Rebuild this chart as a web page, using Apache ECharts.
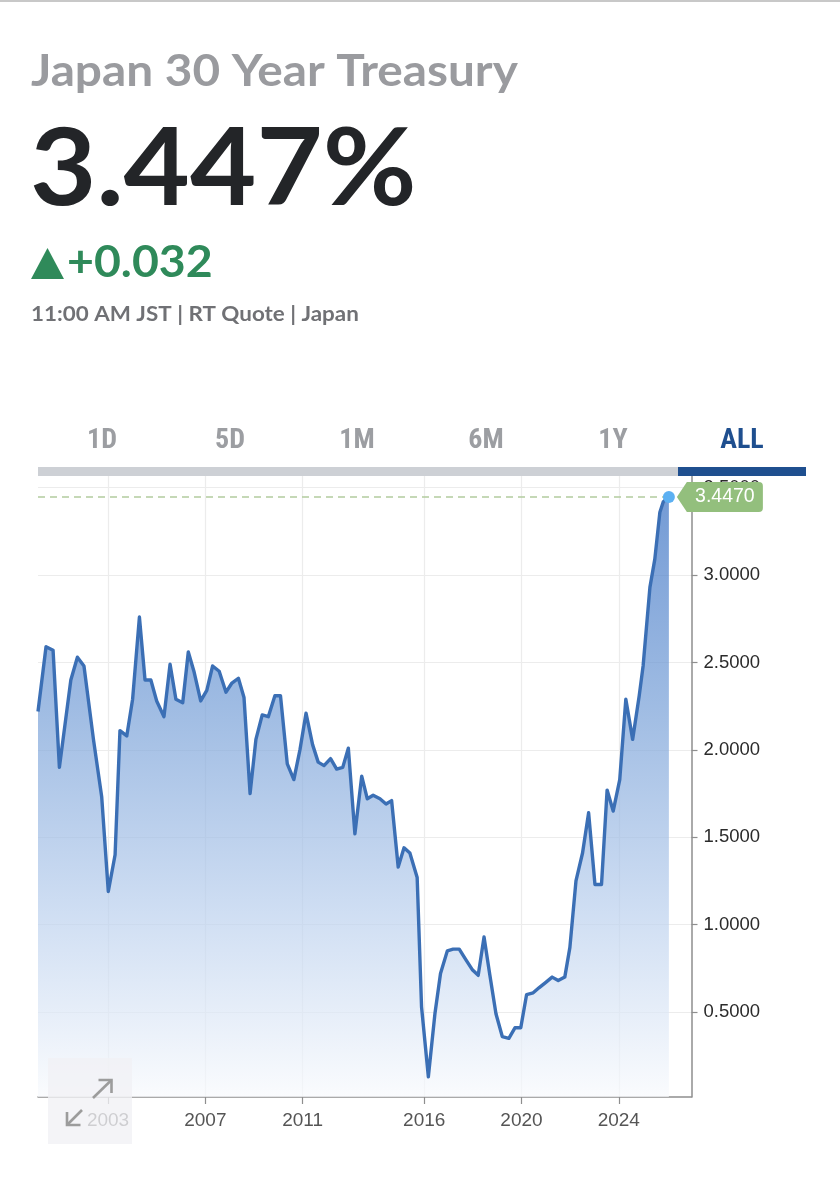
<!DOCTYPE html>
<html>
<head>
<meta charset="utf-8">
<script src="https://cdn.jsdelivr.net/npm/echarts@6/dist/echarts.min.js"></script>
<style>
  html, body { margin: 0; padding: 0; background: #fff; }
  #chart { width: 840px; height: 1200px; }
</style>
</head>
<body>
<div id="chart"></div>
<script>
// ---- data ----
const years = [2000.12, 2000.45, 2000.74, 2001.00, 2001.47, 2001.74, 2002.01, 2002.40, 2002.74, 2003.01,
  2003.29, 2003.49, 2003.77, 2004.01, 2004.29, 2004.52, 2004.76, 2005.00, 2005.30, 2005.55,
  2005.79, 2006.07, 2006.30, 2006.53, 2006.81, 2007.06, 2007.30, 2007.57, 2007.85, 2008.08,
  2008.36, 2008.59, 2008.84, 2009.08, 2009.34, 2009.59, 2009.86, 2010.09, 2010.37, 2010.64,
  2010.89, 2011.14, 2011.41, 2011.64, 2011.88, 2012.15, 2012.40, 2012.65, 2012.88, 2013.15,
  2013.43, 2013.66, 2013.90, 2014.18, 2014.43, 2014.66, 2014.93, 2015.17, 2015.41, 2015.71,
  2015.89, 2016.17, 2016.44, 2016.67, 2016.95, 2017.19, 2017.44, 2017.71, 2017.99, 2018.22,
  2018.46, 2018.70, 2018.95, 2019.21, 2019.48, 2019.73, 2019.97, 2020.21, 2020.48, 2020.73,
  2021.00, 2021.26, 2021.51, 2021.78, 2021.99, 2022.24, 2022.51, 2022.76, 2023.02, 2023.29,
  2023.52, 2023.77, 2024.04, 2024.29, 2024.57, 2024.84, 2025.00, 2025.28, 2025.48, 2025.69,
  2025.83, 2026.06];
const yields = [2.22, 2.59, 2.57, 1.90, 2.40, 2.53, 2.48, 2.06, 1.73, 1.19,
  1.40, 2.11, 2.08, 2.29, 2.76, 2.40, 2.40, 2.28, 2.19, 2.49,
  2.29, 2.27, 2.56, 2.45, 2.28, 2.34, 2.48, 2.45, 2.33, 2.38,
  2.41, 2.30, 1.75, 2.06, 2.20, 2.19, 2.31, 2.31, 1.92, 1.83,
  2.00, 2.21, 2.03, 1.93, 1.91, 1.95, 1.89, 1.90, 2.01, 1.52,
  1.85, 1.72, 1.74, 1.72, 1.69, 1.71, 1.33, 1.44, 1.41, 1.27,
  0.53, 0.13, 0.49, 0.72, 0.85, 0.86, 0.86, 0.80, 0.74, 0.71,
  0.93, 0.71, 0.49, 0.36, 0.35, 0.41, 0.41, 0.60, 0.61, 0.64,
  0.67, 0.70, 0.68, 0.70, 0.87, 1.25, 1.41, 1.64, 1.23, 1.23,
  1.77, 1.65, 1.83, 2.29, 2.06, 2.31, 2.48, 2.93, 3.09, 3.36,
  3.42, 3.447];
const xTickYears = [2003, 2007, 2011, 2016, 2020, 2024];
const yTickValues = [0.5, 1.0, 1.5, 2.0, 2.5, 3.0, 3.5];
const tabs = ['1D', '5D', '1M', '6M', '1Y', 'ALL'];
const titleText = 'Japan 30 Year Treasury';
const priceText = '3.447%';
const changeText = '+0.032';
const metaText = '11:00 AM JST | RT Quote | Japan';

const lastX = years[years.length - 1];
const lastY = yields[yields.length - 1];
const seriesData = years.map((x, i) => [x, yields[i]]);

const tabCenters = [102, 230, 357, 486, 613, 742];
const tabGraphics = tabs.map((t, i) => ({
  type: 'text', x: tabCenters[i], y: 441, z: 10,
  style: {
    text: t, align: 'center', verticalAlign: 'middle',
    font: '700 28px "Liberation Sans Narrow", "Roboto Condensed", "Liberation Sans", Arial, sans-serif',
    fill: t === 'ALL' ? '#1f4f8f' : '#9c9ea2'
  }
}));

const chart = echarts.init(document.getElementById('chart'), null, { renderer: 'canvas' });
chart.setOption({
  animation: false,
  backgroundColor: '#ffffff',
  grid: { left: 38, right: 148.5, top: 476, bottom: 103, containLabel: false },
  xAxis: {
    type: 'value',
    min: years[0], max: 2026.99,
    axisLine: { show: true, lineStyle: { color: '#8e8e8e', width: 1.5 } },
    axisTick: { show: true, length: 7, customValues: xTickYears, lineStyle: { color: '#8e8e8e', width: 1.2 } },
    axisLabel: { customValues: xTickYears, margin: 14, color: '#555555', fontSize: 19,
      fontFamily: '"Liberation Sans", Arial, sans-serif', formatter: v => String(Math.round(v)) },
    splitLine: { show: true, lineStyle: { color: '#ececec', width: 1.2 } }
  },
  yAxis: {
    type: 'value', position: 'right',
    min: 0.014, max: 3.567,
    axisLine: { show: true, lineStyle: { color: '#8e8e8e', width: 1.5 } },
    axisTick: { show: true, inside: false, length: 6, customValues: yTickValues, lineStyle: { color: '#8e8e8e', width: 1.2 } },
    axisLabel: { customValues: yTickValues, margin: 12, color: '#2b2b2b', fontSize: 18.5,
      fontFamily: '"Liberation Sans", Arial, sans-serif', formatter: v => v.toFixed(4) },
    splitLine: { show: true, lineStyle: { color: '#ececec', width: 1.2 } }
  },
  series: [{
    type: 'line',
    data: seriesData,
    showSymbol: false,
    lineStyle: { color: '#3b6fb5', width: 3.4, join: 'round' },
    areaStyle: {
      origin: 'start',
      color: new echarts.graphic.LinearGradient(0, 0, 0, 1, [
        { offset: 0, color: '#3870c3' },
        { offset: 0.35, color: '#769fd7' },
        { offset: 0.7, color: '#bcd1ee' },
        { offset: 1, color: '#f8fafd' }
      ])
    },
    markLine: {
      silent: true, symbol: ['none', 'none'],
      label: { show: false },
      lineStyle: { type: [7, 5], color: '#b3cc9f', width: 1.5 },
      data: [[{ coord: [years[0], lastY] }, { coord: [lastX, lastY] }]]
    },
    markPoint: {
      silent: true,
      data: [
        {
          coord: [lastX, lastY],
          symbol: 'path://M0,15 L10,0 L82,0 Q86,0 86,4 L86,26 Q86,30 82,30 L10,30 Z',
          symbolSize: [86, 30], symbolOffset: [51, 0],
          itemStyle: { color: '#93bf7d' },
          label: { show: true, position: 'inside', offset: [5, 0], formatter: lastY.toFixed(4),
            color: '#ffffff', fontSize: 19.5, fontFamily: '"Liberation Sans", Arial, sans-serif' }
        },
        {
          coord: [lastX, lastY],
          symbol: 'circle', symbolSize: 12,
          itemStyle: { color: '#5cb0f2' },
          label: { show: false }
        }
      ]
    }
  }],
  graphic: [
    { type: 'line', shape: { x1: 0, y1: 1, x2: 840, y2: 1 }, style: { stroke: '#c8c8c8', lineWidth: 2 } },
    { type: 'text', x: 31, y: 72, scaleX: 1.11, style: { text: titleText, align: 'left', verticalAlign: 'middle',
        font: '700 43px Lato, "Open Sans", sans-serif', fill: '#9a9b9f' } },
    { type: 'text', x: 30, y: 170, scaleX: 1.07, style: { text: priceText, align: 'left', verticalAlign: 'middle',
        font: '700 107px Lato, "Open Sans", sans-serif', fill: '#232528' } },
    { type: 'polygon', shape: { points: [[31, 279], [47.5, 248], [64, 279]] }, style: { fill: '#2f8a5a' } },
    { type: 'text', x: 67, y: 263, scaleX: 1.08, style: { text: changeText, align: 'left', verticalAlign: 'middle',
        font: '700 43px Lato, "Open Sans", sans-serif', fill: '#2f8a5a' } },
    { type: 'text', x: 31, y: 315, scaleX: 1.12, style: { text: metaText, align: 'left', verticalAlign: 'middle',
        font: '700 20px Lato, "Open Sans", sans-serif', fill: '#707175' } },
    ...tabGraphics,
    { type: 'rect', shape: { x: 38, y: 467, width: 640, height: 9 }, style: { fill: '#cdd0d5' }, z: 10 },
    { type: 'rect', shape: { x: 678, y: 467, width: 128, height: 9 }, style: { fill: '#1f4f8f' }, z: 10 },
    { type: 'rect', shape: { x: 48, y: 1058, width: 84, height: 86 }, style: { fill: 'rgba(241,241,245,0.78)' }, z: 100 },
    { type: 'line', shape: { x1: 93, y1: 1098, x2: 111.5, y2: 1080 }, style: { stroke: '#9c9c9c', lineWidth: 2.6 }, z: 101 },
    { type: 'polyline', shape: { points: [[98.5, 1080], [111.5, 1080], [111.5, 1093]] }, style: { stroke: '#9c9c9c', lineWidth: 2.6, fill: null }, z: 101 },
    { type: 'line', shape: { x1: 82, y1: 1110, x2: 67, y2: 1125 }, style: { stroke: '#9c9c9c', lineWidth: 2.6 }, z: 101 },
    { type: 'polyline', shape: { points: [[67, 1112], [67, 1125], [80.5, 1125]] }, style: { stroke: '#9c9c9c', lineWidth: 2.6, fill: null }, z: 101 }
  ]
});
</script>
</body>
</html>
